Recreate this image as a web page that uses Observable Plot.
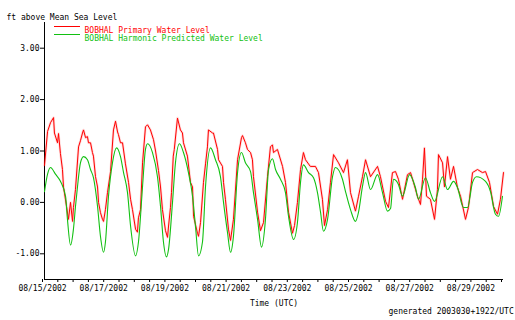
<!DOCTYPE html>
<html>
<head>
<meta charset="utf-8">
<script src="https://cdn.jsdelivr.net/npm/d3@7"></script>
<script src="https://cdn.jsdelivr.net/npm/@observablehq/plot@0.6"></script>
<style>
  html, body { margin: 0; padding: 0; background: #fff; }
  #chart svg { display: block; }
</style>
</head>
<body>
<div id="chart"></div>
<script>
// Hours since 2002-08-15 00:00 UTC and water levels (ft above MSL)
const predictedHours = [0,2.4,4.7,8.6,12.5,16.5,18.0,20.4,22.7,24.3,25.9,28.2,30.6,33.7,36.1,38.4,41.6,43.9,46.3,47.8,50.2,53.3,56.5,59.6,62.0,65.1,67.5,71.4,73.7,76.9,79.2,80.8,84.7,88.6,91.0,93.3,95.7,97.3,100.4,102.7,105.9,109.0,112.9,116.1,118.4,120.8,123.9,126.3,130.2,134.1,138.0,140.4,143.5,145.9,148.2,151.4,154.5,157.6,161.6,163.9,167.1,170.2,173.3,175.7,178.8,181.2,185.1,189.0,191.4,195.3,198.4,200.8,203.1,207.1,211.0,214.1,216.5,218.8,222.0,225.9,228.2,233.7,236.1,240.0,243.9,246.3,249.4,251.8,255.7,261.2,265.1,269.0,271.4,273.7,277.6,280.8,286.3,290.9,293.3,298.8,302.7,305.9,312.2,316.1,320.8,323.9,328.6,331.8,335.7,338.8,345.9,349.8,353.7,356.1,359.2];
const predictedLevels = [0.21,0.55,0.68,0.55,0.41,0.12,-0.33,-0.83,-0.52,-0.08,0.31,0.77,0.89,0.83,0.64,0.48,-0.08,-0.66,-0.97,-0.77,0.12,0.77,1.06,0.89,0.58,0.19,-0.46,-1.04,-0.77,0.31,1.03,1.14,0.97,0.50,-0.08,-0.77,-1.06,-0.91,0.00,0.77,1.14,0.97,0.58,0.12,-0.46,-1.04,-0.77,0.31,1.06,0.83,0.50,0.00,-0.58,-0.97,-0.66,0.58,0.97,0.77,0.60,0.19,-0.33,-0.87,-0.33,0.64,0.85,0.64,0.45,0.19,-0.27,-0.72,-0.39,0.39,0.73,0.58,0.48,0.19,-0.19,-0.56,-0.33,0.50,0.68,0.45,0.21,-0.14,-0.37,-0.19,0.31,0.58,0.25,0.54,0.19,-0.17,-0.12,0.45,0.35,0.12,0.54,0.29,0.06,0.48,0.19,0.02,0.50,0.25,0.41,0.29,-0.10,-0.10,0.39,0.50,0.41,0.21,-0.23,-0.27,0.12];

const observedHours = [0,2.4,4.7,7.1,7.8,10.2,11.0,12.5,14.1,14.9,17.3,18.8,20.4,22.0,22.7,24.3,26.7,28.2,29.8,30.6,32.2,33.7,34.5,36.1,37.6,38.4,40.0,41.6,42.4,43.9,45.5,46.3,47.8,49.4,51.8,54.1,55.7,57.3,58.0,59.6,61.2,63.5,65.9,67.5,69.0,71.4,72.9,73.7,75.3,76.9,79.2,80.8,83.1,85.5,87.1,89.4,91.0,92.5,94.9,96.5,97.3,98.8,99.6,101.0,101.8,104.3,106.6,108.2,109.0,112.1,114.5,116.1,116.9,120.0,120.8,122.4,124.7,126.3,127.8,128.6,131.8,132.5,135.7,136.5,139.6,140.4,141.9,144.3,145.9,148.2,151.4,154.5,155.3,157.6,159.2,161.6,163.1,163.9,167.1,169.4,171.8,174.9,177.2,178.8,179.6,182.7,186.7,189.0,191.4,194.5,196.1,198.4,200.8,203.1,204.7,208.5,212.5,214.9,218.0,219.6,222.0,224.3,226.7,230.6,234.5,237.6,240.0,243.9,246.3,249.4,251.8,255.7,261.2,263.5,267.5,269.8,272.9,275.3,277.6,280.8,284.7,287.1,289.4,292.5,294.9,296.5,298.0,299.6,302.7,305.9,308.2,309.0,312.2,313.7,316.1,318.4,320.8,323.9,326.3,330.2,332.5,335.7,339.6,343.5,345.9,349.0,352.2,355.3,357.6,360.0];
const observedLevels = [0.72,1.38,1.55,1.65,1.35,1.16,1.34,0.95,0.64,0.30,-0.08,-0.33,0.00,-0.37,-0.10,0.25,1.08,1.20,1.35,1.41,1.26,1.28,1.16,1.16,0.97,0.90,0.50,0.30,0.00,-0.20,-0.33,-0.37,-0.14,0.19,0.60,1.41,1.58,1.37,1.32,1.16,1.16,0.75,0.39,0.06,-0.14,-0.52,-0.58,-0.30,-0.14,0.77,1.47,1.51,1.41,1.22,1.00,0.62,0.30,-0.14,-0.55,-0.68,-0.46,-0.10,0.19,0.90,1.03,1.64,1.41,1.35,1.16,0.90,0.39,0.30,-0.27,-0.60,-0.66,-0.39,0.39,0.75,1.08,1.41,1.35,1.35,1.03,0.83,0.70,0.39,0.06,-0.52,-0.74,-0.33,0.83,1.26,1.30,1.16,1.03,0.97,0.83,0.50,-0.19,-0.55,-0.39,0.50,1.08,1.12,0.97,1.03,0.70,0.39,-0.19,-0.60,-0.45,0.00,0.64,0.97,0.83,0.70,0.70,0.58,0.06,-0.45,-0.14,0.39,0.93,0.77,0.58,0.83,0.19,-0.17,0.12,0.50,0.83,0.50,0.70,0.50,0.02,-0.10,0.58,0.60,0.45,0.06,0.54,0.58,0.39,0.12,-0.04,0.45,1.06,0.12,0.06,-0.33,0.25,0.93,0.77,0.30,0.89,0.45,0.70,0.29,0.12,-0.33,-0.10,0.58,0.64,0.58,0.60,0.39,-0.08,-0.23,0.06,0.58];

const yTicks = [-1, 0, 1, 2, 3];
const seriesNames = ["BOBHAL Primary Water Level", "BOBHAL Harmonic Predicted Water Level"];
const seriesColors = ["#ff0000", "#12c012"];
const yLabel = "ft above Mean Sea Level";
const xLabel = "Time (UTC)";
const footer = "generated 2003030+1922/UTC";

const t0 = Date.UTC(2002, 7, 15);
const t1 = Date.UTC(2002, 7, 30);
const toDate = h => new Date(t0 + h * 3600e3);
const predicted = predictedHours.map((h, i) => ({t: toDate(h), v: predictedLevels[i]}));
const observed = observedHours.map((h, i) => ({t: toDate(h), v: observedLevels[i]}));

const fmtDate = d3.utcFormat("%m/%d/%Y");
const xTicks = d3.utcHour.every(12).range(new Date(t0), new Date(t1 + 1));
const font = "DejaVu Sans Mono";

const plot = Plot.plot({
  width: 515,
  height: 320,
  marginLeft: 44,
  marginRight: 12,
  marginTop: 22,
  marginBottom: 41,
  style: {fontFamily: font, fontSize: "8px", color: "#000", background: "#fff"},
  x: {type: "utc", domain: [new Date(t0), new Date(t1)]},
  y: {domain: [-1.5, 3.5]},
  marks: [
    Plot.ruleX([new Date(t0)], {stroke: "#000", strokeWidth: 1}),
    Plot.ruleY([-1.5], {stroke: "#000", strokeWidth: 1}),
    Plot.axisY({ticks: yTicks, tickFormat: d => d.toFixed(2), tickSize: 4, tickPadding: 1, label: null, fontSize: 8}),
    Plot.axisX({ticks: xTicks, tickSize: 3, tickPadding: 3, label: null, fontSize: 8, dx: -2,
      tickFormat: d => (d.getUTCHours() === 0 && Math.round((d - t0) / 864e5) % 2 === 0 && +d < t1) ? fmtDate(d) : ""}),
    Plot.line(observed, {x: "t", y: "v", stroke: seriesColors[0], strokeWidth: 2.5, strokeOpacity: 0.15}),
    Plot.line(observed, {x: "t", y: "v", stroke: seriesColors[0], strokeWidth: 1}),
    Plot.line(predicted, {x: "t", y: "v", stroke: seriesColors[1], strokeWidth: 1.1, curve: "monotone-x"}),
    Plot.text([yLabel], {frameAnchor: "top-left", dx: -38, dy: -8, textAnchor: "start", fontSize: 8, fill: "#000"}),
    Plot.text([seriesNames[0]], {frameAnchor: "top-left", dx: 40, dy: 5, textAnchor: "start", fontSize: 8, fill: seriesColors[0]}),
    Plot.text([seriesNames[1]], {frameAnchor: "top-left", dx: 40, dy: 13, textAnchor: "start", fontSize: 8, fill: seriesColors[1]}),
    Plot.text([xLabel], {frameAnchor: "bottom", dy: 26, fontSize: 8, fill: "#000"}),
    Plot.text([footer], {frameAnchor: "bottom-right", dx: -115, dy: 34, textAnchor: "start", fontSize: 8, fill: "#000"})
  ]
});

// legend swatches
const svg = d3.select(plot);
[26.5, 34.5].forEach((y, i) => {
  svg.append("line").attr("x1", 54).attr("x2", 80).attr("y1", y).attr("y2", y)
    .attr("stroke", seriesColors[i]).attr("stroke-width", 1);
});
document.getElementById("chart").appendChild(plot);
</script>
</body>
</html>
